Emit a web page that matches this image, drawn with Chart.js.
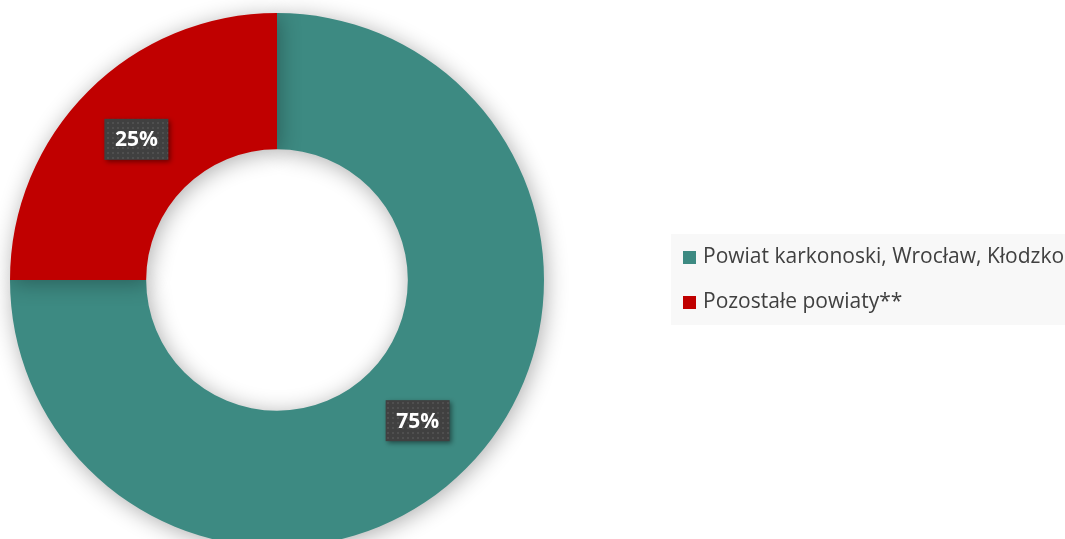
<!DOCTYPE html>
<html>
<head>
<meta charset="utf-8">
<script src="https://cdn.jsdelivr.net/npm/chart.js@4"></script>
<style>
  html, body { margin: 0; padding: 0; background: #fff; overflow: hidden; width: 1065px; height: 539px; }
  #wrap { position: absolute; left: 0; top: 0; width: 1200px; height: 600px; }
</style>
</head>
<body>
<div id="wrap"><canvas id="donut" width="1200" height="600"></canvas></div>
<script>
// data
const categories = ['Powiat karkonoski, Wrocław, Kłodzko*', 'Pozostałe powiaty**'];
const shares = [75, 25];
const sliceColors = ['#3D8A82', '#C00000'];

// dotted dark fill for the percentage boxes
function makePattern(ctx) {
  const c = document.createElement('canvas');
  c.width = 5; c.height = 5;
  const p = c.getContext('2d');
  p.fillStyle = '#404040';
  p.fillRect(0, 0, 5, 5);
  p.fillStyle = '#4f4f4f';
  p.fillRect(2, 2, 2, 2);
  return ctx.createPattern(c, 'repeat');
}

const shadowPlugin = {
  id: 'ringShadow',
  beforeDatasetsDraw(chart) {
    const ctx = chart.ctx;
    ctx.save();
    ctx.shadowColor = 'rgba(0,0,0,0.32)';
    ctx.shadowBlur = 22;
    ctx.shadowOffsetX = 2;
    ctx.shadowOffsetY = 3;
  },
  afterDatasetsDraw(chart) {
    chart.ctx.restore();
  }
};

const valueLabels = {
  id: 'valueLabels',
  afterDatasetsDraw(chart) {
    const ctx = chart.ctx;
    const meta = chart.getDatasetMeta(0);
    const pattern = makePattern(ctx);
    ctx.save();
    ctx.font = 'bold 21px "Open Sans", sans-serif';
    ctx.textAlign = 'center';
    ctx.textBaseline = 'middle';
    meta.data.forEach((arc, i) => {
      const pos = arc.tooltipPosition();
      const txt = shares[i] + '%';
      const w = 64, h = 41;
      ctx.save();
      ctx.shadowColor = 'rgba(0,0,0,0.45)';
      ctx.shadowBlur = 5;
      ctx.shadowOffsetX = 2;
      ctx.shadowOffsetY = 2;
      ctx.fillStyle = pattern;
      ctx.fillRect(pos.x - w / 2, pos.y - h / 2, w, h);
      ctx.restore();
      ctx.fillStyle = '#ffffff';
      ctx.fillText(txt, pos.x, pos.y + 1);
    });
    ctx.restore();
  }
};

const sideLegend = {
  id: 'sideLegend',
  afterDraw(chart) {
    const ctx = chart.ctx;
    const colors = chart.data.datasets[0].backgroundColor;
    ctx.save();
    ctx.fillStyle = '#F8F8F8';
    ctx.fillRect(671, 234, 520, 91);
    ctx.font = '21px "Open Sans", sans-serif';
    ctx.textBaseline = 'middle';
    chart.data.labels.forEach((lab, i) => {
      const y = 257 + i * 45;
      ctx.fillStyle = colors[i];
      ctx.fillRect(683, y - 6, 13, 13);
      ctx.fillStyle = '#404040';
      ctx.fillText(lab, 703, y);
    });
    ctx.restore();
  }
};

new Chart(document.getElementById('donut'), {
  type: 'doughnut',
  data: {
    labels: categories,
    datasets: [{
      data: shares,
      backgroundColor: sliceColors,
      borderWidth: 0,
      hoverOffset: 0
    }]
  },
  options: {
    responsive: false,
    animation: false,
    cutout: '49%',
    layout: { padding: { left: 10, top: 13, right: 656, bottom: 53 } },
    plugins: {
      legend: { display: false },
      tooltip: { enabled: false }
    }
  },
  plugins: [shadowPlugin, valueLabels, sideLegend]
});
</script>
</body>
</html>
